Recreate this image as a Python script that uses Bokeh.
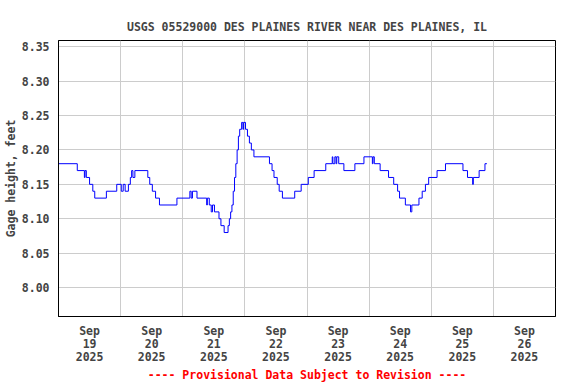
import pandas as pd
from bokeh.plotting import figure
from bokeh.models import Range1d, FixedTicker
from bokeh.embed import file_html
from bokeh.resources import INLINE

# ---- data (step breakpoints) ----
times = [
    "2025-09-19 00:00", "2025-09-19 07:15", "2025-09-19 10:00", "2025-09-19 10:15",
    "2025-09-19 10:45", "2025-09-19 12:00", "2025-09-19 13:15", "2025-09-19 14:00",
    "2025-09-19 18:30", "2025-09-19 22:30", "2025-09-20 00:15", "2025-09-20 01:00",
    "2025-09-20 01:45", "2025-09-20 03:00", "2025-09-20 03:45", "2025-09-20 04:15",
    "2025-09-20 04:45", "2025-09-20 05:30", "2025-09-20 10:30", "2025-09-20 11:15",
    "2025-09-20 12:15", "2025-09-20 13:30", "2025-09-20 15:00", "2025-09-20 21:45",
    "2025-09-21 02:45", "2025-09-21 03:15", "2025-09-21 03:45", "2025-09-21 05:30",
    "2025-09-21 09:15", "2025-09-21 09:30", "2025-09-21 10:15", "2025-09-21 11:00",
    "2025-09-21 11:30", "2025-09-21 12:15", "2025-09-21 14:00", "2025-09-21 14:45",
    "2025-09-21 16:00", "2025-09-21 17:30", "2025-09-21 18:00", "2025-09-21 18:30",
    "2025-09-21 19:00", "2025-09-21 19:30", "2025-09-21 20:00", "2025-09-21 20:30",
    "2025-09-21 21:00", "2025-09-21 21:30", "2025-09-21 22:00", "2025-09-21 22:45",
    "2025-09-21 23:15", "2025-09-21 23:30", "2025-09-22 00:15", "2025-09-22 01:00",
    "2025-09-22 01:45", "2025-09-22 02:30", "2025-09-22 03:30", "2025-09-22 09:30",
    "2025-09-22 10:30", "2025-09-22 11:15", "2025-09-22 12:30", "2025-09-22 13:15",
    "2025-09-22 14:30", "2025-09-22 19:15", "2025-09-22 21:45", "2025-09-23 00:30",
    "2025-09-23 02:45", "2025-09-23 07:15", "2025-09-23 09:45", "2025-09-23 10:00",
    "2025-09-23 10:45", "2025-09-23 11:15", "2025-09-23 11:30", "2025-09-23 12:15",
    "2025-09-23 14:15", "2025-09-23 18:30", "2025-09-23 22:00", "2025-09-24 01:15",
    "2025-09-24 01:30", "2025-09-24 02:00", "2025-09-24 04:15", "2025-09-24 07:30",
    "2025-09-24 09:30", "2025-09-24 11:00", "2025-09-24 11:45", "2025-09-24 14:00",
    "2025-09-24 16:00", "2025-09-24 16:30", "2025-09-24 19:15", "2025-09-24 20:30",
    "2025-09-24 21:45", "2025-09-24 23:00", "2025-09-25 02:15", "2025-09-25 05:30",
    "2025-09-25 12:15", "2025-09-25 14:00", "2025-09-25 16:00", "2025-09-25 16:15",
    "2025-09-25 18:30", "2025-09-25 20:45", "2025-09-25 21:30",
]
gage_ft = [
    8.18, 8.17, 8.16, 8.17, 8.16, 8.15, 8.14, 8.13,
    8.14, 8.15, 8.14, 8.15, 8.14, 8.15, 8.16, 8.17,
    8.16, 8.17, 8.16, 8.15, 8.14, 8.13, 8.12, 8.13,
    8.14, 8.13, 8.14, 8.13, 8.12, 8.13, 8.12, 8.11,
    8.12, 8.11, 8.10, 8.09, 8.08, 8.09, 8.10, 8.11,
    8.12, 8.14, 8.16, 8.18, 8.20, 8.22, 8.23, 8.24,
    8.23, 8.24, 8.23, 8.22, 8.21, 8.20, 8.19, 8.18,
    8.17, 8.16, 8.15, 8.14, 8.13, 8.14, 8.15, 8.16,
    8.17, 8.18, 8.19, 8.18, 8.19, 8.18, 8.19, 8.18,
    8.17, 8.18, 8.19, 8.18, 8.19, 8.18, 8.17, 8.16,
    8.15, 8.14, 8.13, 8.12, 8.11, 8.12, 8.13, 8.14,
    8.15, 8.16, 8.17, 8.18, 8.17, 8.16, 8.15, 8.16,
    8.17, 8.18, 8.18,
]
day_labels = ["Sep\n19\n2025", "Sep\n20\n2025", "Sep\n21\n2025", "Sep\n22\n2025",
              "Sep\n23\n2025", "Sep\n24\n2025", "Sep\n25\n2025", "Sep\n26\n2025"]
day_starts = ["2025-09-19", "2025-09-20", "2025-09-21", "2025-09-22",
              "2025-09-23", "2025-09-24", "2025-09-25", "2025-09-26", "2025-09-27"]
y_ticks = [8.00, 8.05, 8.10, 8.15, 8.20, 8.25, 8.30, 8.35]
y_min, y_max = 7.958, 8.359

FONT = "DejaVu Sans Mono"
FS = "11.5px"

def ms(ts):
    return pd.Timestamp(ts).value / 1e6

x_ms = [ms(t) for t in times]
mid_ms = [ms(d) for d in day_starts]
noon_ms = [m + 12 * 3600 * 1000 for m in mid_ms[:-1]]

p = figure(frame_width=497, frame_height=276, output_backend="svg", toolbar_location=None,
           x_range=Range1d(mid_ms[0], mid_ms[-1]), y_range=Range1d(y_min, y_max),
           min_border_left=50, min_border_right=13, min_border_top=40, min_border_bottom=55)

p.step(x_ms, gage_ft, mode="after", line_color="#0000ff", line_width=1)

p.title.text = "USGS 05529000 DES PLAINES RIVER NEAR DES PLAINES, IL"
p.title.align = "center"
p.title.vertical_align = "top"
p.title.text_font = FONT
p.title.text_font_size = FS
p.title.text_font_style = "bold"
p.title.standoff = 10

p.outline_line_color = "black"
p.outline_line_width = 1

# x axis
xa = p.xaxis[0]
xa.ticker = FixedTicker(ticks=noon_ms)
xa.major_label_overrides = {t: lab for t, lab in zip(noon_ms, day_labels)}
xa.major_tick_in = 0
xa.major_tick_out = 0
xa.minor_tick_in = 0
xa.minor_tick_out = 0
xa.axis_line_color = "black"
xa.major_label_text_font = FONT
xa.major_label_text_font_size = FS
xa.major_label_text_font_style = "bold"
xa.major_label_text_line_height = 0.95
xa.major_label_standoff = 7
xa.axis_label = "---- Provisional Data Subject to Revision ----"
xa.axis_label_text_font = FONT
xa.axis_label_text_font_size = FS
xa.axis_label_text_font_style = "bold"
xa.axis_label_text_color = "#ff0000"
xa.axis_label_text_line_height = 1.0
xa.axis_label_standoff = 1

# y axis
ya = p.yaxis[0]
ya.ticker = FixedTicker(ticks=y_ticks)
ya.major_label_overrides = {v: f"{v:.2f}" for v in y_ticks}
ya.major_tick_in = 0
ya.major_tick_out = 0
ya.minor_tick_in = 0
ya.minor_tick_out = 0
ya.axis_line_color = "black"
ya.major_label_text_font = FONT
ya.major_label_text_font_size = FS
ya.major_label_text_font_style = "bold"
ya.major_label_standoff = 9
ya.axis_label = "Gage height, feet"
ya.axis_label_text_font = FONT
ya.axis_label_text_font_size = FS
ya.axis_label_text_font_style = "bold"
ya.axis_label_text_line_height = 1.0
ya.axis_label_standoff = 1

p.xgrid.ticker = FixedTicker(ticks=mid_ms[1:-1])
p.xgrid.grid_line_color = "#cccccc"
p.ygrid.ticker = FixedTicker(ticks=y_ticks)
p.ygrid.grid_line_color = "#cccccc"

p.background_fill_color = "white"
p.border_fill_color = "white"

open("out.html", "w").write(file_html(p, INLINE))
